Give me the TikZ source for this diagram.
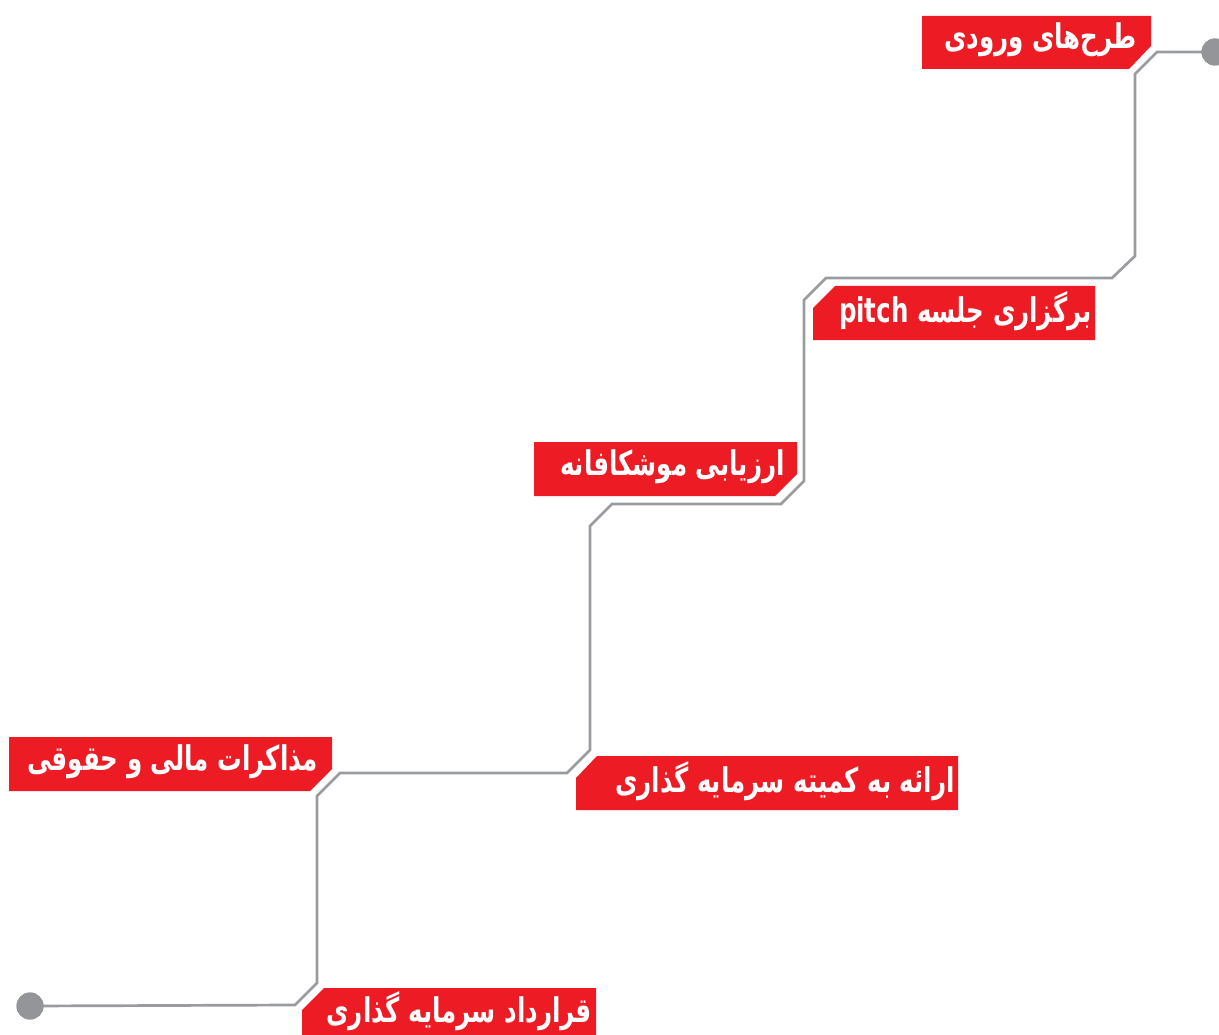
\documentclass[tikz,border=0pt]{standalone}
\usepackage{fontspec}
\newfontfamily\fa[Script=Arabic,FakeStretch=0.72]{DejaVu Sans}
\TeXXeTstate=1
\definecolor{boxred}{HTML}{ED1C24}
\definecolor{linegray}{HTML}{9A9B9F}
\definecolor{dotgray}{HTML}{939598}
\begin{document}
\begin{tikzpicture}[x=1pt,y=-1pt,
  lbl/.style={anchor=east,inner sep=0pt,text=white,font=\fa\bfseries\fontsize{34}{38}\selectfont},
  redbox/.style={fill=boxred},
  track/.style={draw=linegray,line width=2.7pt,line join=miter},
  enddot/.style={circle,fill=dotgray,minimum size=27pt,inner sep=0pt}]
\useasboundingbox (0,0) rectangle (1219,1035);
% boxes
\fill[redbox] (922,16) -- (1151,16) -- (1151,46) -- (1129,69) -- (922,69) -- cycle;
\fill[redbox] (835,286) -- (1095,286) -- (1095,340) -- (813,340) -- (813,308) -- cycle;
\fill[redbox] (534,442) -- (797,442) -- (797,474) -- (775,496) -- (534,496) -- cycle;
\fill[redbox] (9,737) -- (332,737) -- (332,769) -- (310,791) -- (9,791) -- cycle;
\fill[redbox] (597,756) -- (958,756) -- (958,810) -- (576,810) -- (576,778) -- cycle;
\fill[redbox] (324,988) -- (596,988) -- (596,1042) -- (302,1042) -- (302,1010) -- cycle;
% end dots
\node[enddot] (start) at (1215,52) {};
\node[enddot] (finish) at (30,1006) {};
% track corners
\coordinate (c1) at (1157,52);
\coordinate (c2) at (1135,74);
\coordinate (c3) at (1135,256);
\coordinate (c4) at (1112,278);
\coordinate (c5) at (826,278);
\coordinate (c6) at (804,300);
\coordinate (c7) at (804,481);
\coordinate (c8) at (781,504);
\coordinate (c9) at (612,504);
\coordinate (c10) at (590,526);
\coordinate (c11) at (590,750);
\coordinate (c12) at (567,773);
\coordinate (c13) at (340,773);
\coordinate (c14) at (317,796);
\coordinate (c15) at (317,983);
\coordinate (c16) at (295,1005);
\draw[track] (start.center) -- (c1) -- (c2) -- (c3) -- (c4) -- (c5) -- (c6) -- (c7) -- (c8) -- (c9) -- (c10) -- (c11) -- (c12) -- (c13) -- (c14) -- (c15) -- (c16) -- (finish.center);
\node[enddot] at (start) {};
\node[enddot] at (finish) {};
% labels
\node[lbl] (t1) at (1137,40) {\beginR طرح‌های ورودی\endR};
\node[lbl] (t2) at (1092,311) {\beginR برگزاری جلسه \beginL pitch\endL\endR};
\node[lbl] (t3) at (785,467) {\beginR ارزیابی موشکافانه\endR};
\node[lbl] (t4) at (318,762) {\beginR مذاکرات مالی و حقوقی\endR};
\node[lbl] (t5) at (955,781) {\beginR ارائه به کمیته سرمایه گذاری\endR};
\node[lbl] (t6) at (592,1011) {\beginR قرارداد سرمایه گذاری\endR};
\end{tikzpicture}
\end{document}
